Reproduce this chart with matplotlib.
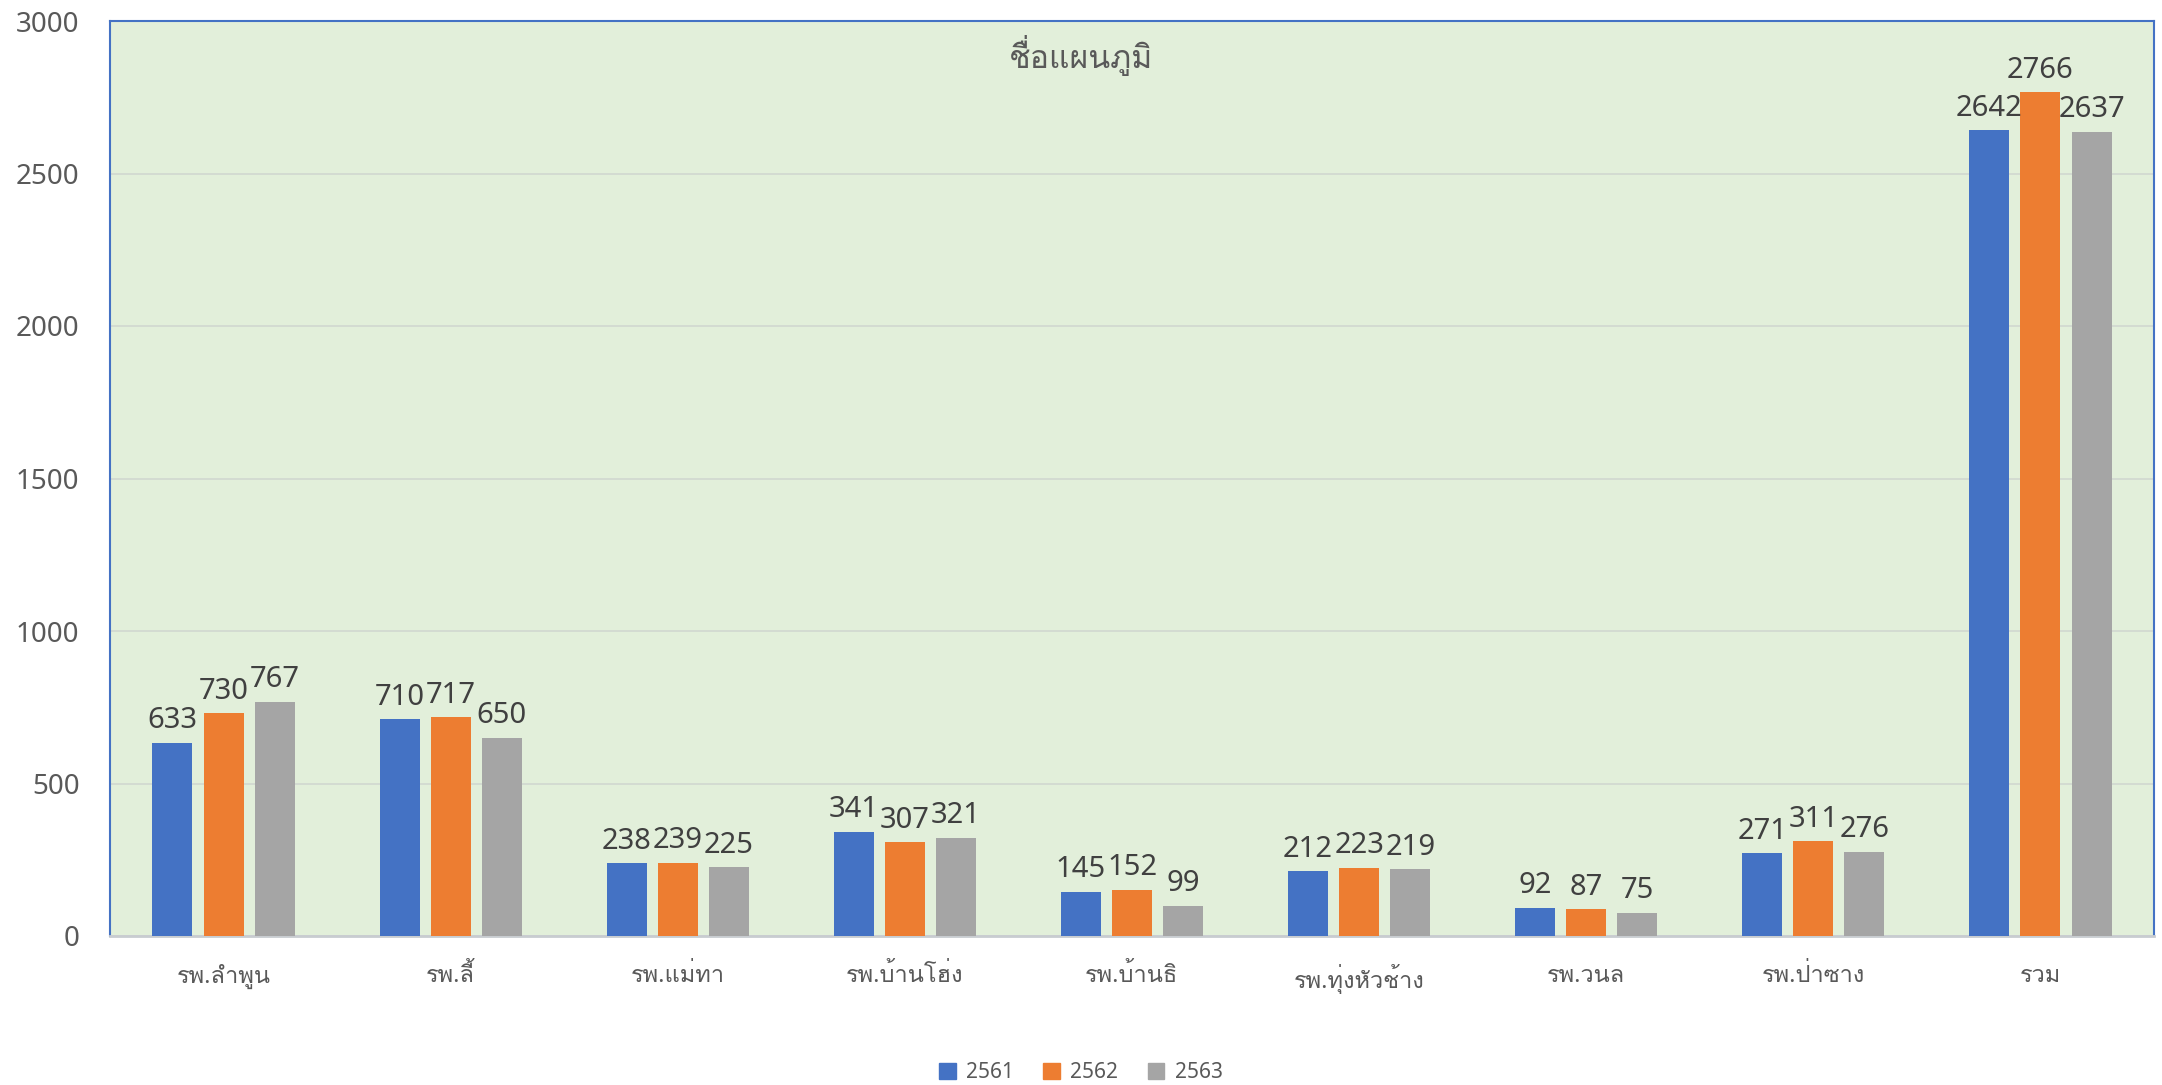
import numpy as np
import matplotlib
matplotlib.use('Agg')
import matplotlib.pyplot as plt
from matplotlib.patches import Patch

# Noto Sans for digits and latin, Loma picks up the Thai characters
plt.rcParams['font.family'] = ['Noto Sans', 'Loma', 'Noto Sans Thai Looped', 'DejaVu Sans']

# data
categories = ['รพ.ลำพูน', 'รพ.ลี้', 'รพ.แม่ทา', 'รพ.บ้านโฮ่ง', 'รพ.บ้านธิ',
              'รพ.ทุ่งหัวช้าง', 'รพ.วนล', 'รพ.ป่าซาง', 'รวม']
years = ['2561', '2562', '2563']
vals_2561 = [633, 710, 238, 341, 145, 212, 92, 271, 2642]
vals_2562 = [730, 717, 239, 307, 152, 223, 87, 311, 2766]
vals_2563 = [767, 650, 225, 321, 99, 219, 75, 276, 2637]
y_ticks = [0, 500, 1000, 1500, 2000, 2500, 3000]
title = 'ชื่อแผนภูมิ'

colors = ['#4472C4', '#ED7D31', '#A5A5A5']
bg = '#E2EFDA'
text_col = '#595959'
label_col = '#404040'

W, H = 2162, 1085
fig = plt.figure(figsize=(W / 100, H / 100), dpi=100)
ax = fig.add_axes([110 / W, 1 - 936 / H, 2044 / W, 915 / H])
ax.set_facecolor(bg)

x = np.arange(len(categories))
bar_w = 0.176
step = 0.225
series = [vals_2561, vals_2562, vals_2563]
for i, (vals, c) in enumerate(zip(series, colors)):
    pos = x + (i - 1) * step
    ax.bar(pos, vals, width=bar_w, color=c, zorder=3)
    for px, v in zip(pos, vals):
        ax.text(px, v + 25, str(v), ha='center', va='bottom', fontsize=21,
                color=label_col, zorder=4)

ax.set_xlim(-0.5, len(categories) - 0.5)
ax.set_ylim(0, 3000)
ax.set_yticks(y_ticks)
ax.set_xticks(x)
ax.set_xticklabels(categories)
ax.tick_params(axis='y', length=0, pad=22, labelsize=20, labelcolor=text_col)
ax.tick_params(axis='x', length=0, pad=20, labelsize=17, labelcolor=text_col)
ax.grid(axis='y', color='#D0D7D0', linewidth=1.2, zorder=0)

for s in ['top', 'left', 'right']:
    ax.spines[s].set_color('#4472C4')
    ax.spines[s].set_linewidth(1.5)
ax.spines['bottom'].set_color('#C8CCD0')
ax.spines['bottom'].set_linewidth(2)

fig.text(0.5, 1 - 55 / H, title, ha='center', va='center', fontsize=23, color=text_col)

handles = [Patch(color=c) for c in colors]
fig.legend(handles, years, loc='center', bbox_to_anchor=(0.5, 1 - 1073 / H), ncol=3,
           frameon=False, fontsize=15, labelcolor=text_col, handlelength=0.8,
           handleheight=0.8, columnspacing=1.4, handletextpad=0.5)

fig.savefig('out.png', dpi=100)
